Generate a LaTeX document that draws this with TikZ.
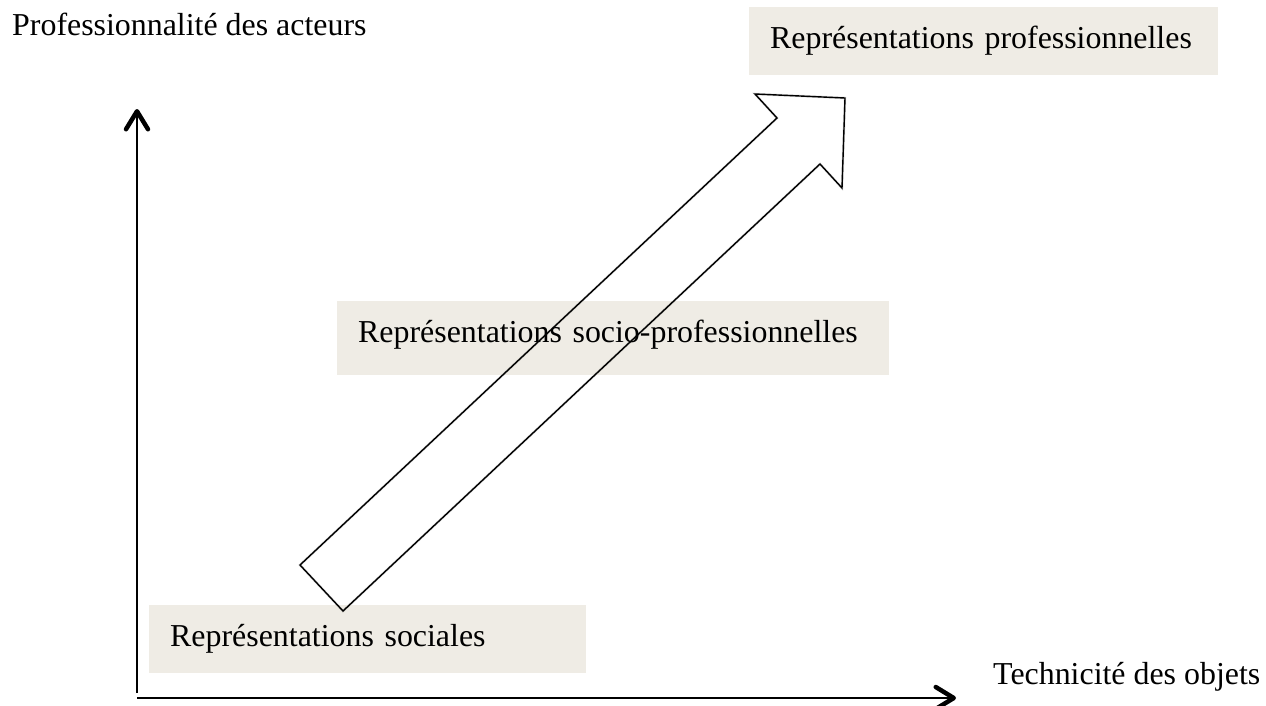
\documentclass[tikz,border=0pt]{standalone}
\usepackage{fontspec}
\setmainfont{Liberation Serif}
\usetikzlibrary{arrows.meta}
\definecolor{boxfill}{RGB}{239,236,229}
\tikzset{
  lbl/.style={inner sep=0pt, anchor=base west, font=\fontsize{31.9}{38}\selectfont},
  shadebox/.style={fill=boxfill, draw=none, inner ysep=0pt, inner xsep=21pt, anchor=north west, align=left, text height=41pt, font=\fontsize{31.9}{38}\selectfont},
  axisline/.style={line width=2pt, -{Straight Barb[length=18pt, width=22pt, line width=4.5pt, round]}},
  blockarrow/.style={line width=1.4pt, line join=miter},
  blockshadow/.style={line width=2.5pt, draw=black, opacity=0.12}
}
\begin{document}
\begin{tikzpicture}[x=1pt, y=-1pt]
\useasboundingbox (0,0) rectangle (1266,705);
% boxes
\node[shadebox, text width=427pt, text depth=27pt] (rp) at (749,7) {Représentations professionnelles};
\node[shadebox, text width=510pt, text depth=33pt] (rsp) at (337,301) {Représentations socio-professionnelles};
\node[shadebox, text width=395pt, text depth=27pt] (rs) at (149,605) {Représentations sociales};
% block arrow
\coordinate (t1) at (300,565);
\coordinate (s1) at (777,118);
\coordinate (w1) at (755,94);
\coordinate (tip) at (845,98);
\coordinate (w2) at (842,188);
\coordinate (s2) at (820,164);
\coordinate (t2) at (343,611);
\draw[blockshadow, shift={(1.5,1.8)}] (t1) -- (s1) -- (w1) -- (tip) -- (w2) -- (s2) -- (t2) -- cycle;
\draw[blockarrow] (t1) -- (s1) -- (w1) -- (tip) -- (w2) -- (s2) -- (t2) -- cycle;
% axes
\coordinate (ybot) at (137,693);
\coordinate (ytop) at (137,109);
\coordinate (xleft) at (137,698);
\coordinate (xright) at (956,698);
\draw[axisline] (ybot) -- (ytop);
\draw[axisline] (xleft) -- (xright);
% axis labels
\node[lbl] (ylab) at (12,35) {Professionnalité des acteurs};
\node[lbl] (xlab) at (993,684) {Technicité des objets};
\end{tikzpicture}
\end{document}
